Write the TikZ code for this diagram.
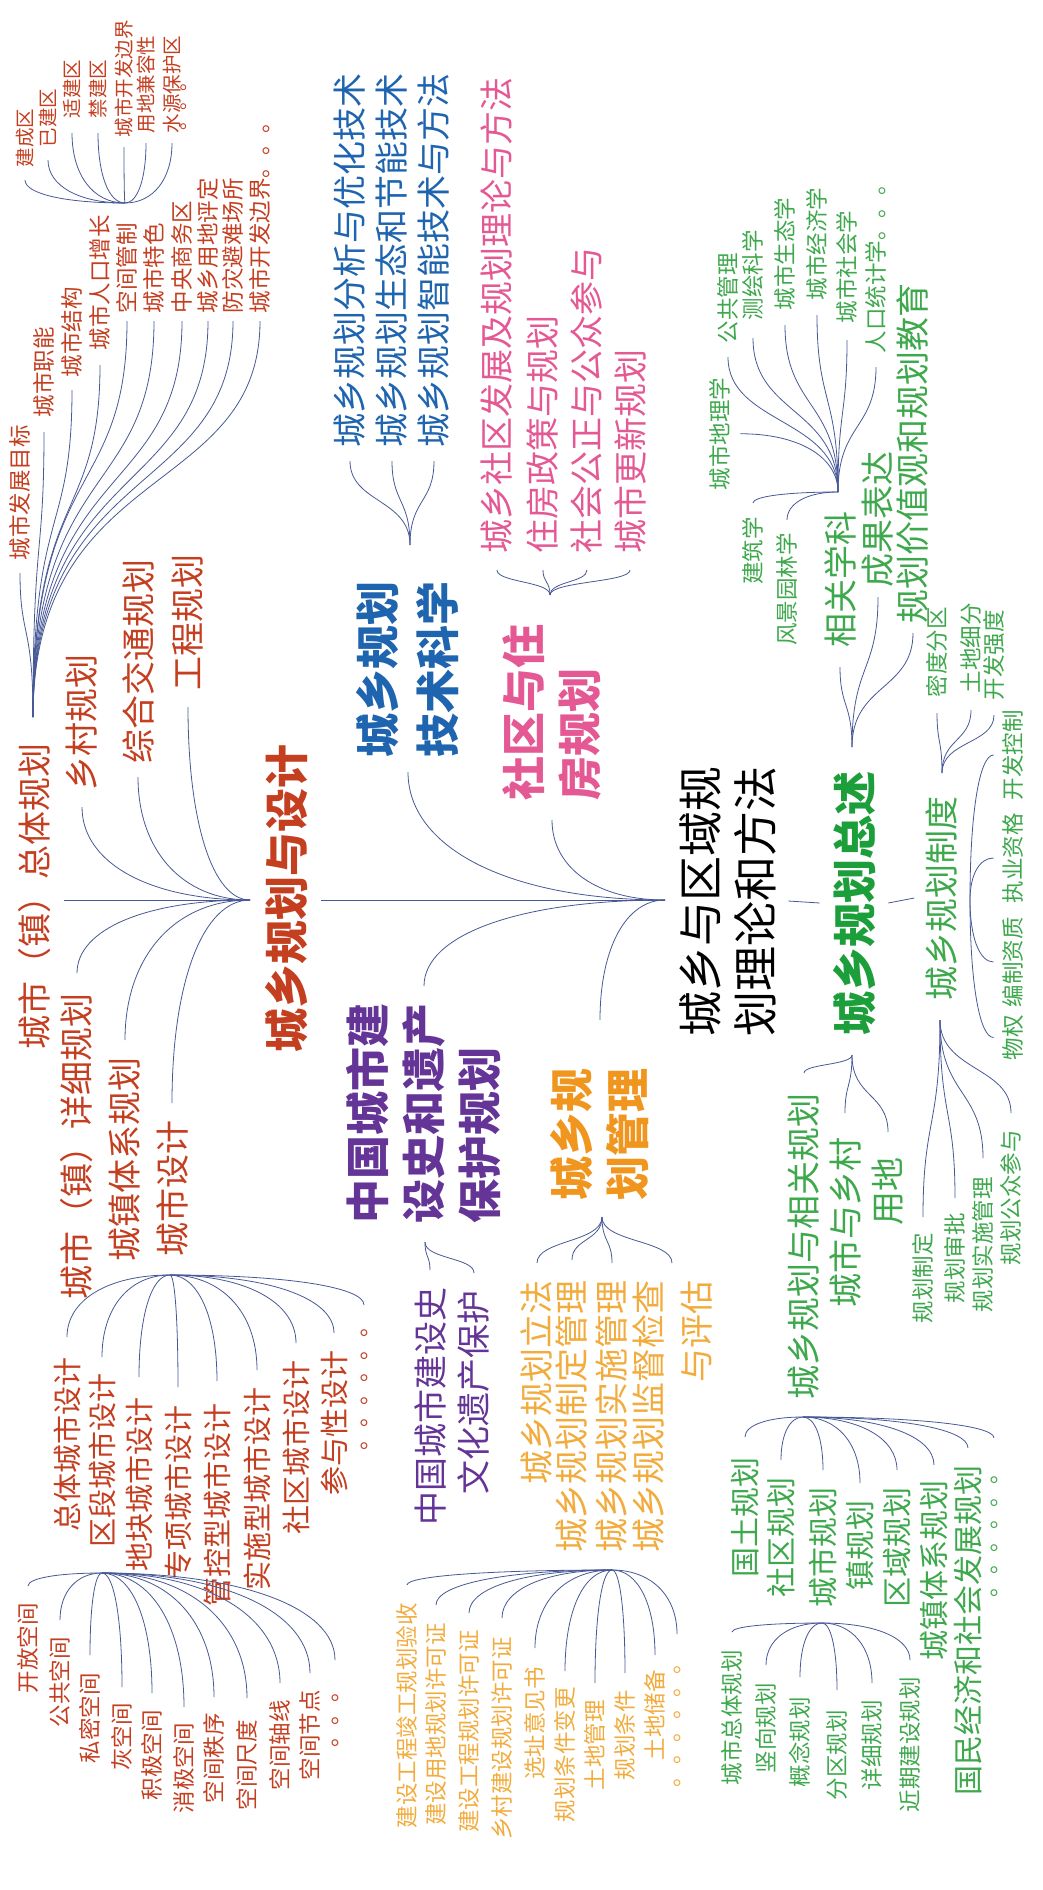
\documentclass[tikz,border=0pt]{standalone}
\usepackage{fontspec}
\setmainfont{Noto Sans CJK SC}
\newfontfamily\heavy{Noto Sans CJK SC Black}
\usetikzlibrary{calc}
\definecolor{cR}{RGB}{196,62,32}
\definecolor{cB}{RGB}{30,100,175}
\definecolor{cP}{RGB}{228,88,148}
\definecolor{cU}{RGB}{100,52,150}
\definecolor{cO}{RGB}{240,150,30}
\definecolor{cOi}{RGB}{242,172,62}
\definecolor{cG}{RGB}{62,168,76}
\definecolor{cGt}{RGB}{28,158,58}
\definecolor{cL}{RGB}{72,88,150}
\tikzset{
 rt/.style={rotate=90,inner sep=0pt,outer sep=0pt},
 fA/.style={rt,font=\fontsize{34pt}{40pt}\selectfont},
 fB/.style={rt,font=\fontsize{30pt}{36pt}\selectfont},
 fC/.style={rt,font=\fontsize{29pt}{34pt}\selectfont},
 fS/.style={rt,font=\fontsize{22.5pt}{27pt}\selectfont},
 fT/.style={rt,font=\fontsize{19.5pt}{23pt}\selectfont},
 ttl/.style={rt,font=\heavy\fontsize{44pt}{56pt}\selectfont,align=left},
 ln/.style={draw=cL,line width=0.8pt},
}
\newcommand\itU[5]{\node[#1,anchor=west] (#2) at (#3,#4) {#5};}
\newcommand\itD[5]{\node[#1,anchor=east] (#2) at (#3,#4) {#5};}
\newcommand\cv[6]{\draw[ln] let \p1=(#1), \p2=(#2) in (\p1) .. controls ({\x1+#3*(\x2-\x1)},{\y1+#4*(\y2-\y1)}) and ({\x2-#5*(\x2-\x1)},{\y2-#6*(\y2-\y1)}) .. (\p2);}
\newcommand\sU[3][12]{\cv{#2}{$(#3.west)+(0,#1)$}{0}{0.55}{0}{0.5}}
\newcommand\sD[3][12]{\cv{#2}{$(#3.east)+(0,-#1)$}{0}{0.55}{0}{0.5}}
\newcommand\qU[3][12]{\cv{#2}{$(#3.west)+(0,#1)$}{0.6}{0}{0}{0.6}}
\newcommand\qD[3][12]{\cv{#2}{$(#3.east)+(0,-#1)$}{0.6}{0}{0}{0.6}}
\newcommand\bigF[3][12]{\cv{#2}{$(#3.west)+(0,#1)$}{0}{0.65}{0}{0.45}}
\newcommand\rS[3][10]{\cv{#2}{$(#3.south)+(#1,0)$}{0}{0.6}{0.6}{0}}
\newcommand\rN[3][9]{\cv{#2}{$(#3.north)+(-#1,0)$}{0}{0.6}{0.6}{0}}
\begin{document}
\begin{tikzpicture}[x=1pt,y=-1pt]
\fill[white] (0,0) rectangle (1042,1890);
\useasboundingbox (0,0) rectangle (1042,1890);

% hubs
\coordinate (hRoot) at (665,900);
\coordinate (hR) at (250,900);
\coordinate (hRf) at (33,717);
\coordinate (hRs) at (125,203);
\coordinate (hCD) at (170,1275);
\coordinate (hQD) at (102,1573);
\coordinate (hB) at (410,545);
\coordinate (hP) at (550,595);
\coordinate (hPu) at (425,1242);
\coordinate (hO) at (602,1217);
\coordinate (hOs) at (612,1570);
\coordinate (hGu) at (852,747);
\coordinate (hGd) at (852,1055);
\coordinate (hGx) at (838,492);
\coordinate (hZu) at (942,773);
\coordinate (hZr) at (970,900);
\coordinate (hZd) at (940,1020);
\coordinate (hGr) at (803,1417);
\coordinate (hCs) at (822,1623);

% titles
\node[rt,font=\fontsize{45pt}{55pt}\selectfont,align=left] (tRoot) at (728,901) {城乡与区域规\\划理论和方法};
\node[ttl,text=cR] (tR) at (287,898) {城乡规划与设计};
\node[ttl,text=cB,font=\heavy\fontsize{44pt}{60pt}\selectfont,anchor=west] (tB) at (408,757) {城乡规划\\技术科学};
\node[ttl,text=cP,anchor=west] (tP) at (552,800) {社区与住\\房规划};
\node[ttl,text=cU,anchor=west] (tPu) at (424,1223) {中国城市建\\设史和遗产\\保护规划};
\node[ttl,text=cO,anchor=west] (tO) at (600,1200) {城乡规\\划管理};
\node[ttl,text=cGt] (tG) at (855,903) {城乡规划总述};

% root connections
\draw[ln] (hRoot) -- ($(hRoot -| tR.south)+(13,0)$);
\qU[15]{hRoot}{tB}
\qU[20]{hRoot}{tP}
\qD[17]{hRoot}{tPu}
\qD[48]{hRoot}{tO}

% ===== red group =====
\itD{fA,text=cR}{n11}{35}{743}{城市（镇）总体规划}
\itU{fA,text=cR}{n12}{82}{790}{乡村规划}
\itU{fA,text=cR}{n13}{138}{763}{综合交通规划}
\itU{fA,text=cR}{n14}{188}{690}{工程规划}
\itD{fA,text=cR}{n15}{77}{993}{城市（镇）详细规划}
\itD{fA,text=cR}{n16}{125}{1057}{城镇体系规划}
\itD{fA,text=cR}{n17}{172}{1120}{城市设计}
\draw[ln] (hR) -- ($(hR -| n11.south)+(13,0)$);
\qU[17]{hR}{n12} \qU[14]{hR}{n13} \qU[17]{hR}{n14}
\qD[20]{hR}{n15} \qD[17]{hR}{n16} \qD[17]{hR}{n17}

\itU{fS,text=cR}{a1}{20}{560}{城市发展目标}
\itU{fS,text=cR}{a2}{44}{417}{城市职能}
\itU{fS,text=cR}{a3}{72}{377}{城市结构}
\itU{fS,text=cR}{a4}{100}{350}{城市人口增长}
\itU{fS,text=cR}{a5}{127}{313}{空间管制}
\itU{fS,text=cR}{a6}{154}{313}{城市特色}
\itU{fS,text=cR}{a7}{182}{313}{中央商务区}
\itU{fS,text=cR}{a8}{208}{313}{城乡用地评定}
\itU{fS,text=cR}{a9}{233}{313}{防灾避难场所}
\itU{fS,text=cR}{a10}{260}{313}{城市开发边界。。。}
\bigF[13]{hRf}{a1} \bigF[15]{hRf}{a2} \bigF[13]{hRf}{a3} \bigF[15]{hRf}{a4}
\bigF[8]{hRf}{a5} \bigF[8]{hRf}{a6} \bigF[8]{hRf}{a7} \bigF[8]{hRf}{a8}
\bigF[8]{hRf}{a9} \bigF[8]{hRf}{a10}

\itU{fT,text=cR}{b1}{25}{167}{建成区}
\itU{fT,text=cR}{b2}{48}{147}{已建区}
\itU{fT,text=cR}{b3}{72}{118}{适建区}
\itU{fT,text=cR}{b4}{98}{118}{禁建区}
\itU{fT,text=cR}{b5}{124}{137}{城市开发边界}
\itU{fT,text=cR}{b6}{146}{133}{用地兼容性}
\itU{fT,text=cR}{b7}{172}{133}{水源保护区}
\itU{fT,text=cR}{b8}{184}{130}{。。。}
\qU[13]{hRs}{b1} \qU[13]{hRs}{b2} \qU[15]{hRs}{b3} \qU[15]{hRs}{b4}
\qU[10]{hRs}{b5} \qU[10]{hRs}{b6} \qU[10]{hRs}{b7}

\itD{fC,text=cR}{c1}{67}{1357}{总体城市设计}
\itD{fC,text=cR}{c2}{102}{1373}{区段城市设计}
\itD{fC,text=cR}{c3}{139}{1397}{地块城市设计}
\itD{fC,text=cR}{c4}{178}{1405}{专项城市设计}
\itD{fC,text=cR}{c5}{217}{1403}{管控型城市设计}
\itD{fC,text=cR}{c6}{257}{1387}{实施型城市设计}
\itD{fC,text=cR}{c7}{296}{1360}{社区城市设计}
\itD{fC,text=cR}{c8}{334}{1350}{参与性设计}
\itD{fS,text=cR}{c9}{364}{1315}{。。。。。。}
\qD[20]{hCD}{c1} \qD[16]{hCD}{c2} \qD[20]{hCD}{c3} \qD[18]{hCD}{c4}
\qD[22]{hCD}{c5} \qD[17]{hCD}{c6} \qD[17]{hCD}{c7} \qD[17]{hCD}{c8} \qD[10]{hCD}{c9}

\itD{fS,text=cR}{d1}{28}{1603}{开放空间}
\itD{fS,text=cR}{d2}{60}{1637}{公共空间}
\itD{fS,text=cR}{d3}{90}{1673}{私密空间}
\itD{fS,text=cR}{d4}{122}{1703}{灰空间}
\itD{fS,text=cR}{d5}{152}{1710}{积极空间}
\itD{fS,text=cR}{d6}{184}{1723}{消极空间}
\itD{fS,text=cR}{d7}{214}{1713}{空间秩序}
\itD{fS,text=cR}{d8}{247}{1720}{空间尺度}
\itD{fS,text=cR}{d9}{280}{1700}{空间轴线}
\itD{fS,text=cR}{d10}{310}{1690}{空间节点}
\itD{fS,text=cR}{d11}{335}{1680}{。。。}
\qD[17]{hQD}{d1} \qD[17]{hQD}{d2} \qD[18]{hQD}{d3} \qD[16]{hQD}{d4}
\qD[17]{hQD}{d5} \qD[16]{hQD}{d6} \qD[16]{hQD}{d7} \qD[22]{hQD}{d8}
\qD[17]{hQD}{d9} \qD[17]{hQD}{d10} \qD[20]{hQD}{d11}

% ===== blue group =====
\itU{fA,text=cB}{e1}{350}{447}{城乡规划分析与优化技术}
\itU{fA,text=cB}{e2}{392}{447}{城乡规划生态和节能技术}
\itU{fA,text=cB}{e3}{434}{447}{城乡规划智能技术与方法}
\sU[14]{hB}{e1} \sU[14]{hB}{e2} \sU[14]{hB}{e3}

% ===== pink group =====
\itU{fA,text=cP}{p1}{497}{553}{城乡社区发展及规划理论与方法}
\itU{fA,text=cP}{p2}{543}{553}{住房政策与规划}
\itU{fA,text=cP}{p3}{587}{553}{社会公正与公众参与}
\itU{fA,text=cP}{p4}{630}{553}{城市更新规划}
\sU[17]{hP}{p1} \sU[17]{hP}{p2} \sU[17]{hP}{p3} \sU[17]{hP}{p4}

% ===== purple group =====
\itD{fA,text=cU}{q1}{430}{1287}{中国城市建设史}
\itD{fA,text=cU}{q2}{474}{1290}{文化遗产保护}
\sD[17]{hPu}{q1} \sD[17]{hPu}{q2}

% ===== orange group =====
\itD{fA,text=cOi}{o1}{537}{1280}{城乡规划立法}
\itD{fA,text=cOi}{o2}{572}{1280}{城乡规划制定管理}
\itD{fA,text=cOi}{o3}{612}{1280}{城乡规划实施管理}
\node[fA,text=cOi,align=right,anchor=east,font=\fontsize{34pt}{48pt}\selectfont] (o4) at (672,1280) {城乡规划监督检查\\与评估};
\sD[17]{hO}{o1} \sD[20]{hO}{o2} \sD[17]{hO}{o3} \sD[17]{hO}{o4}

\itD{fS,text=cOi}{r1}{407}{1603}{建设工程竣工规划验收}
\itD{fS,text=cOi}{r2}{436}{1623}{建设用地规划许可证}
\itD{fS,text=cOi}{r3}{469}{1630}{建设工程规划许可证}
\itD{fS,text=cOi}{r4}{502}{1637}{乡村建设规划许可证}
\itD{fS,text=cOi}{r5}{535}{1667}{选址意见书}
\itD{fS,text=cOi}{r6}{565}{1687}{规划条件变更}
\itD{fS,text=cOi}{r7}{595}{1700}{土地管理}
\itD{fS,text=cOi}{r8}{625}{1690}{规划条件}
\itD{fS,text=cOi}{r9}{655}{1670}{土地储备}
\itD{fS,text=cOi}{r10}{677}{1652}{。。。。。。}
\qD[18]{hOs}{r1} \qD[18]{hOs}{r2} \qD[17]{hOs}{r3} \qD[19]{hOs}{r4}
\qD[19]{hOs}{r5} \qD[16]{hOs}{r6} \qD[17]{hOs}{r7} \qD[17]{hOs}{r8}
\qD[15]{hOs}{r9} \qD[18]{hOs}{r10}

% ===== green group =====
\node[fA,text=cG] (g3) at (942,898) {城乡规划制度};
\draw[ln] ($(tRoot.south)+(12,0)$) -- ($(tG.north)+(-14,0)$);
\draw[ln] ($(tG.south)+(12,0)$) -- ($(g3.north)+(-12,0)$);

\itU{fA,text=cG}{g1}{840}{647}{相关学科}
\itU{fA,text=cG}{g2}{878}{587}{成果表达}
\itU{fA,text=cG}{g4}{913}{623}{规划价值观和规划教育}
\sU[20]{hGu}{g1} \sU[10]{hGu}{g2} \sU[10]{hGu}{g4}
\itD{fA,text=cG}{g5}{804}{1093}{城乡规划与相关规划}
\itD{fA,text=cG}{g6}{845}{1137}{城市与乡村}
\itD{fA,text=cG}{g7}{888}{1157}{用地}
\sD[20]{hGd}{g5} \sD[24]{hGd}{g6} \sD[25]{hGd}{g7}

\itU{fS,text=cG}{x1}{720}{490}{城市地理学}
\itU{fS,text=cG}{x2}{728}{343}{公共管理}
\itU{fS,text=cG}{x3}{753}{320}{测绘科学}
\itU{fS,text=cG}{x4}{785}{310}{城市生态学}
\itU{fS,text=cG}{x5}{817}{300}{城市经济学}
\itU{fS,text=cG}{x6}{847}{323}{城市社会学}
\itU{fS,text=cG}{x7}{876}{353}{人口统计学。。。}
\itD{fS,text=cG}{x8}{753}{517}{建筑学}
\itD{fS,text=cG}{x9}{787}{533}{风景园林学}
\rS[10]{hGx}{x1}
\sU[14]{hGx}{x2} \sU[18]{hGx}{x3} \sU[15]{hGx}{x4} \sU[15]{hGx}{x5}
\sU[17]{hGx}{x6} \sU[14]{hGx}{x7}
\qD[14]{hGx}{x8} \qD[13]{hGx}{x9}

\itU{fS,text=cG}{y1}{937}{697}{密度分区}
\itU{fS,text=cG}{y2}{971}{693}{土地细分}
\itU{fS,text=cG}{y3}{994}{700}{开发强度}
\sU[16]{hZu}{y1} \sU[17]{hZu}{y2} \sU[15]{hZu}{y3}

\itU{fS,text=cG}{z1}{1013}{800}{开发控制}
\itU{fS,text=cG}{z2}{1013}{903}{执业资格}
\itU{fS,text=cG}{z3}{1013}{1007}{编制资质}
\itU{fS,text=cG}{z4}{1013}{1060}{物权}
\rN{hZr}{z1} \rN{hZr}{z2} \rN{hZr}{z3} \rN{hZr}{z4}

\itD{fS,text=cG}{w1}{923}{1233}{规划制定}
\itD{fS,text=cG}{w2}{955}{1213}{规划审批}
\itD{fS,text=cG}{w3}{983}{1177}{规划实施管理}
\itD{fS,text=cG}{w4}{1011}{1130}{规划公众参与}
\sD[16]{hZd}{w1} \sD[15]{hZd}{w2} \sD[19]{hZd}{w3} \sD[17]{hZd}{w4}

\itD{fB,text=cG}{v1}{745}{1457}{国土规划}
\itD{fB,text=cG}{v2}{781}{1477}{社区规划}
\itD{fB,text=cG}{v3}{823}{1487}{城市规划}
\itD{fB,text=cG}{v4}{860}{1500}{镇规划}
\itD{fB,text=cG}{v5}{897}{1487}{区域规划}
\itD{fB,text=cG}{v6}{934}{1480}{城镇体系规划}
\itD{fB,text=cG}{v7}{968}{1465}{国民经济和社会发展规划}
\itD{fS,text=cG}{v8}{994}{1462}{。。。。。。}
\qD[20]{hGr}{v1} \qD[17]{hGr}{v2} \qD[17]{hGr}{v3} \qD[17]{hGr}{v4}
\qD[17]{hGr}{v5} \qD[15]{hGr}{v6} \qD[17]{hGr}{v7} \qD[24]{hGr}{v8}

\itD{fS,text=cG}{s1}{732}{1650}{城市总体规划}
\itD{fS,text=cG}{s2}{766}{1683}{竖向规划}
\itD{fS,text=cG}{s3}{800}{1697}{概念规划}
\itD{fS,text=cG}{s4}{837}{1710}{分区规划}
\itD{fS,text=cG}{s5}{872}{1700}{详细规划}
\itD{fS,text=cG}{s6}{910}{1677}{近期建设规划}
\qD[18]{hCs}{s1} \qD[18]{hCs}{s2} \qD[20]{hCs}{s3} \qD[20]{hCs}{s4}
\qD[17]{hCs}{s5} \qD[17]{hCs}{s6}
\end{tikzpicture}
\end{document}
